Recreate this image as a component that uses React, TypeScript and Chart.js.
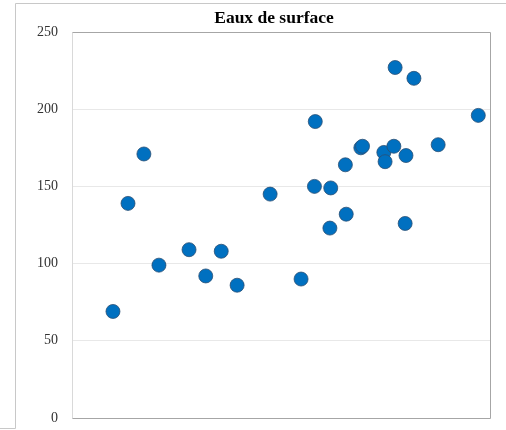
import React, { useEffect, useRef } from "react";
import { Chart, registerables } from "chart.js";

Chart.register(...registerables);

const chartTitle = "Eaux de surface";
const yTicks = [0, 50, 100, 150, 200, 250];
const xValues = [9.8, 13.4, 17.2, 20.8, 28.0, 32.0, 35.7, 39.5, 47.4, 54.8, 58.0, 58.2, 61.9, 61.7, 65.4, 65.6, 69.1, 69.5, 74.6, 74.9, 77.0, 77.3, 79.7, 79.9, 81.8, 87.6, 97.2];
const yValues = [69, 139, 171, 99, 109, 92, 108, 86, 145, 90, 150, 192, 149, 123, 164, 132, 175, 176, 172, 166, 176, 227, 126, 170, 220, 177, 196];

const framePlugin = {
  id: "frameAndTitle",
  beforeDraw(chart: any) {
    const ctx = chart.ctx;
    ctx.save();
    ctx.fillStyle = "#ffffff";
    ctx.fillRect(0, 0, chart.width, chart.height);
    ctx.strokeStyle = "#c8c8c8";
    ctx.lineWidth = 1;
    ctx.beginPath();
    ctx.moveTo(15.5, 3.5);
    ctx.lineTo(15.5, 428.5);
    ctx.lineTo(0, 428.5);
    ctx.moveTo(15.5, 3.5);
    ctx.lineTo(506, 3.5);
    ctx.stroke();
    ctx.restore();
  },
  beforeDatasetsDraw(chart: any) {
    const { ctx, chartArea } = chart;
    const l = Math.round(chartArea.left) + 0.5;
    const r = Math.round(chartArea.right) + 0.5;
    const t = Math.round(chartArea.top) + 0.5;
    const b = Math.round(chartArea.bottom) + 0.5;
    ctx.save();
    ctx.lineWidth = 1;
    ctx.strokeStyle = "#d9d9d9";
    ctx.beginPath();
    ctx.moveTo(l, t);
    ctx.lineTo(l, b);
    ctx.stroke();
    ctx.strokeStyle = "#a6a6a6";
    ctx.beginPath();
    ctx.moveTo(l, t);
    ctx.lineTo(r, t);
    ctx.lineTo(r, b);
    ctx.lineTo(l, b);
    ctx.stroke();
    ctx.restore();
  },
  afterDraw(chart: any) {
    const ctx = chart.ctx;
    ctx.save();
    ctx.fillStyle = "#000000";
    ctx.font = "bold 17.5px 'Liberation Serif', 'Times New Roman', serif";
    ctx.textAlign = "center";
    ctx.textBaseline = "middle";
    ctx.fillText(chartTitle, 274, 18);
    ctx.restore();
  },
};

export default function App() {
  const ref = useRef<HTMLCanvasElement | null>(null);
  useEffect(() => {
    if (!ref.current) return;
    const data = xValues.map((x, i) => ({ x, y: yValues[i] }));
    const chart = new Chart(ref.current, {
      type: "scatter",
      data: {
        datasets: [
          {
            data,
            backgroundColor: "#0070c0",
            borderColor: "#2b4f74",
            borderWidth: 0.8,
            pointRadius: 7,
            pointHoverRadius: 7,
          },
        ],
      },
      options: {
        responsive: false,
        animation: false,
        devicePixelRatio: 1,
        layout: { padding: { top: 32, right: 16, bottom: 12, left: 0 } },
        plugins: {
          legend: { display: false },
          title: { display: false },
          tooltip: { enabled: false },
        },
        scales: {
          x: {
            type: "linear",
            min: 0,
            max: 100,
            display: false,
          },
          y: {
            min: 0,
            max: 250,
            afterBuildTicks: (scale: any) => {
              scale.ticks = yTicks.map((v) => ({ value: v }));
            },
            afterFit: (scale: any) => {
              scale.width = 72;
              scale.paddingTop = 0;
              scale.paddingBottom = 0;
            },
            border: { display: false },
            grid: {
              color: (c: any) => (c.tick && (c.tick.value === 0 || c.tick.value === 250) ? "rgba(0,0,0,0)" : "#e8e8e8"),
              drawTicks: false,
            },
            ticks: {
              padding: 14,
              color: "#333333",
              font: { family: "'Liberation Serif', 'Times New Roman', serif", size: 14 },
            },
          },
        },
      },
      plugins: [framePlugin],
    });
    return () => chart.destroy();
  }, []);
  return (
    <div style={{ position: "absolute", left: 0, top: 0, width: 506, height: 430 }}>
      <canvas ref={ref} width={506} height={430} style={{ width: 506, height: 430, display: "block" }} />
    </div>
  );
}
